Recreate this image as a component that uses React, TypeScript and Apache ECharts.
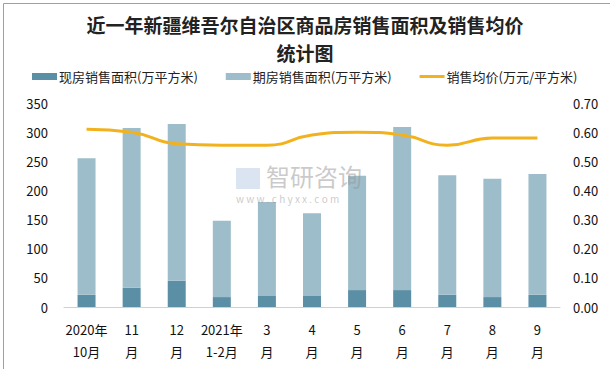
import React, { useEffect, useRef } from "react";
import * as echarts from "echarts";

const categories = ["2020年\n10月", "11\n月", "12\n月", "2021年\n1-2月", "3\n月", "4\n月", "5\n月", "6\n月", "7\n月", "8\n月", "9\n月"];
const spotArea = [21, 33, 45, 17, 19, 19, 29, 29, 21, 17, 21];
const futureArea = [234, 274, 269, 131, 161, 142, 196, 280, 205, 203, 207];
const avgPrice = [0.61, 0.60, 0.56, 0.555, 0.555, 0.59, 0.60, 0.59, 0.555, 0.58, 0.58];
const leftTicks = { min: 0, max: 350, interval: 50 };
const rightTicks = { min: 0, max: 0.7, interval: 0.1 };
const titleLines = ["近一年新疆维吾尔自治区商品房销售面积及销售均价", "统计图"];

const FONT = "'Noto Sans CJK SC', 'Noto Sans', sans-serif";

export default function App() {
  const ref = useRef<HTMLDivElement>(null);
  useEffect(() => {
    document.body.style.margin = "0";
    const chart = echarts.init(ref.current!, null, { renderer: "svg" });
    const titleStyle = { fontSize: 19, fontWeight: "bold", color: "#222", fontFamily: FONT, lineHeight: 19, letterSpacing: 2 };
    chart.setOption({
      animation: false,
      backgroundColor: "#ffffff",
      textStyle: { fontFamily: FONT },
      title: [
        { text: titleLines[0], left: "center", top: 15, padding: 0, textStyle: titleStyle },
        { text: titleLines[1], left: "center", top: 43, padding: 0, textStyle: titleStyle },
      ],
      legend: {
        top: 65,
        left: 27,
        itemWidth: 25,
        itemHeight: 7,
        itemGap: 28,
        textStyle: { fontSize: 13, color: "#222", fontFamily: FONT, padding: [0, 0, 0, -3] },
        data: [
          { name: "现房销售面积(万平方米)", icon: "rect" },
          { name: "期房销售面积(万平方米)", icon: "rect" },
          { name: "销售均价(万元/平方米)", icon: "path://M0,0 L25,0 L25,3 L0,3 Z" },
        ],
      },
      grid: { left: 64, right: 50, top: 103, bottom: 62 },
      xAxis: {
        type: "category",
        data: categories,
        axisTick: { show: false },
        axisLine: { lineStyle: { color: "#d0d0d0" } },
        axisLabel: { color: "#111", fontSize: 13, lineHeight: 22, margin: 11, interval: 0 },
      },
      yAxis: [
        {
          type: "value",
          ...leftTicks,
          splitLine: { show: false },
          axisLine: { show: false },
          axisTick: { show: false },
          axisLabel: { color: "#111", fontSize: 13, margin: 16 },
        },
        {
          type: "value",
          ...rightTicks,
          position: "right",
          splitLine: { show: false },
          axisLine: { show: false },
          axisTick: { show: false },
          axisLabel: { color: "#111", fontSize: 13, margin: 13, formatter: (v: number) => v.toFixed(2) },
        },
      ],
      graphic: [
        {
          type: "rect",
          left: 1,
          top: 1,
          shape: { width: 607, height: 366 },
          style: { fill: "none", stroke: "#a0a0a0", lineWidth: 1 },
          silent: true,
          z: 100,
        },
        {
          type: "text",
          left: 266,
          top: 163,
          style: { text: "智研咨询", fontSize: 24, fill: "rgba(150,150,150,0.5)", fontFamily: FONT, letterSpacing: 5 },
          silent: true,
          z: 100,
        },
        {
          type: "text",
          left: 236,
          top: 193,
          style: { text: "w w w . c h y x x . c o m", fontSize: 10, fill: "rgba(150,150,150,0.5)", fontFamily: FONT },
          silent: true,
          z: 100,
        },
        {
          type: "rect",
          left: 236,
          top: 168,
          shape: { width: 24, height: 21 },
          style: { fill: "rgba(150,180,215,0.35)" },
          silent: true,
          z: 100,
        },
      ],
      series: [
        {
          name: "现房销售面积(万平方米)",
          type: "bar",
          stack: "area",
          barWidth: 18,
          data: spotArea,
          itemStyle: { color: "#5b8fa5" },
        },
        {
          name: "期房销售面积(万平方米)",
          type: "bar",
          stack: "area",
          barWidth: 18,
          data: futureArea,
          itemStyle: { color: "#9ebdca" },
        },
        {
          name: "销售均价(万元/平方米)",
          type: "line",
          yAxisIndex: 1,
          smooth: true,
          symbol: "none",
          data: avgPrice,
          lineStyle: { color: "#f2b21e", width: 3 },
          itemStyle: { color: "#f2b21e" },
        },
      ],
    });
    return () => chart.dispose();
  }, []);
  return <div ref={ref} style={{ width: 610, height: 369, position: "absolute", left: 0, top: 0 }} />;
}
